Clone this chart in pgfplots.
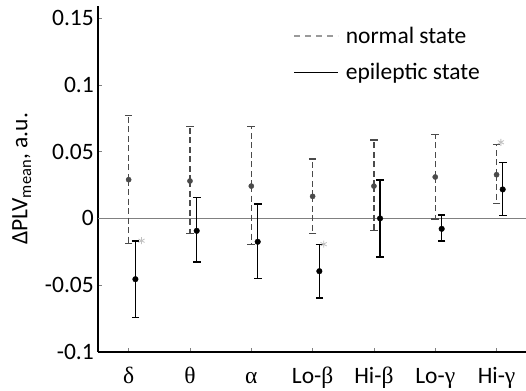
\documentclass[border=0pt]{standalone}
\usepackage{pgfplots}
\pgfplotsset{compat=1.18}
\usepackage{fontspec}
\setmainfont{Carlito}
\newfontfamily\grk{Liberation Serif}
\definecolor{normc}{HTML}{4A4A4A}
\definecolor{legc}{HTML}{9A9A9A}
\definecolor{starc}{HTML}{C0C0C0}
\begin{document}
\begin{tikzpicture}[font=\fontsize{23.5bp}{28bp}\selectfont]
\begin{axis}[
  scale only axis, width=428bp, height=346bp,
  xmin=0.5, xmax=7.48, ymin=-0.1, ymax=0.159,
  axis x line*=bottom, axis y line*=left,
  axis line style={-, line width=1.6bp, black},
  xtick={1,2,3,4,5,6,7},
  xticklabels={{\grk δ},{\grk θ},{\grk α},Lo-{\grk β},Hi-{\grk β},Lo-{\grk γ},Hi-{\grk γ}},
  ytick={-0.1,-0.05,0,0.05,0.1,0.15},
  yticklabels={-0.1,-0.05,0,0.05,0.1,0.15},
  tick align=inside, major tick length=4bp,
  tick style={line width=0.6bp, gray},
  xticklabel style={anchor=base, inner sep=0pt, yshift=-31bp},
  yticklabel style={anchor=east, inner sep=0pt, xshift=-4bp},
  every axis y label/.style={at={(axis description cs:-0.178,0.5)}, rotate=90, anchor=center},
  ylabel={ΔPLV\textsubscript{mean}, a.u.},
  clip=false,
  legend style={at={(rel axis cs:0,1)}, anchor=north west, xshift=195bp, yshift=-20.5bp,
    draw=none, fill=none, inner sep=0pt, row sep=18.5bp, column sep=7bp,
    nodes={inner sep=0pt, anchor=base west}},
  legend cell align=left,
  legend image code/.code={\draw[#1] (0bp,7bp) -- (44bp,7bp);},
]
\addlegendimage{legc, line width=1.3bp, dash pattern=on 6bp off 5bp}
\addlegendentry{normal state}
\addlegendimage{black, line width=1.6bp}
\addlegendentry{epileptic state}

\addplot[gray, line width=0.7bp, forget plot] coordinates {(0.5,0) (7.48,0)};

% normal state
\addplot[normc, only marks, mark=*, mark size=2.6bp, forget plot,
  error bars/.cd, y dir=both, y explicit,
  error bar style={line width=1.2bp, normc, dash pattern=on 6bp off 3.5bp},
  error mark options={solid, normc, line width=1.2bp, mark size=3.8bp, rotate=90}]
  table[x=x, y=y, y error plus=ep, y error minus=em] {
x    y       ep      em
1    0.0290  0.0480  0.0480
2    0.0280  0.0405  0.0390
3    0.0242  0.0443  0.0435
4    0.0165  0.0280  0.0278
5    0.0242  0.0345  0.0335
6    0.0310  0.0320  0.0315
7    0.0327  0.0228  0.0215
};

% epileptic state
\addplot[black, only marks, mark=*, mark size=2.8bp, forget plot,
  error bars/.cd, y dir=both, y explicit,
  error bar style={line width=1.4bp, black},
  error mark options={black, line width=1.4bp, mark size=3.8bp, rotate=90}]
  table[x=x, y=y, y error plus=ep, y error minus=em] {
x      y        ep      em
1.11  -0.0455   0.0285  0.0288
2.11  -0.0093   0.0250  0.0232
3.105 -0.0175   0.0282  0.0273
4.11  -0.0395   0.0200  0.0200
5.10   0.0000   0.0287  0.0288
6.105 -0.0078   0.0103  0.0092
7.10   0.0217   0.0200  0.0197
};

% significance asterisks
\addplot[starc, only marks, mark=asterisk, mark size=3.5bp, line width=0.8bp, forget plot]
  coordinates {(1.21,-0.0167) (4.18,-0.0193) (7.07,0.0570)};
\end{axis}
\pgfresetboundingbox
\useasboundingbox (-98bp,-39bp) rectangle (428bp,352bp);
\end{tikzpicture}
\end{document}
